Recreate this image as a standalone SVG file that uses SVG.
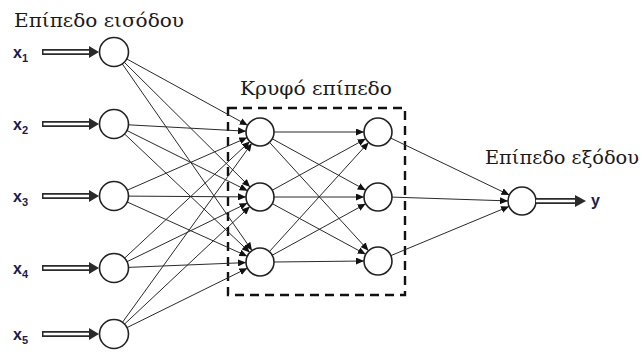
<svg xmlns="http://www.w3.org/2000/svg" width="642" height="352" viewBox="0 0 642 352">
<style>
.node{fill:#fff;stroke:#222;stroke-width:1.6}
.edge{stroke:#2a2a2a;stroke-width:1;fill:none;marker-end:url(#ah)}
.lbl{font-family:"DejaVu Serif","Liberation Serif",serif;font-size:18px;fill:#1a1a1a}
.xv{font-family:"Liberation Sans","DejaVu Sans",sans-serif;font-weight:bold;font-size:16px;fill:#1c1c4a}
.xs{font-size:11px}
.shaft{stroke:#2a2a2a;stroke-width:6;fill:none}
.shaftin{stroke:#fff;stroke-width:2.4;fill:none}
.head{fill:#2a2a2a}
.box{fill:none;stroke:#111;stroke-width:2.4;stroke-dasharray:9,6}
</style>
<defs>
<marker id="ah" markerUnits="userSpaceOnUse" markerWidth="9" markerHeight="7" refX="8" refY="3.5" orient="auto">
<path d="M0,0 L8,3.5 L0,7 z" fill="#111"/>
</marker>
</defs>
<rect width="642" height="352" fill="#fff"/>

<g id="labels">
<text class="lbl" x="14" y="27" textLength="170" lengthAdjust="spacingAndGlyphs">Επίπεδο εισόδου</text>
<text class="lbl" x="240" y="95" textLength="152" lengthAdjust="spacingAndGlyphs">Κρυφό επίπεδο</text>
<text class="lbl" x="485" y="164" textLength="154" lengthAdjust="spacingAndGlyphs">Επίπεδο εξόδου</text>
</g>

<g id="hidden-box"><rect class="box" x="228" y="108" width="177" height="187"/></g>

<g id="connectors">
<line class="edge" x1="126.3" y1="58.7" x2="247.7" y2="125.3"/>
<line class="edge" x1="123.9" y1="61.9" x2="250.1" y2="187.1"/>
<line class="edge" x1="122" y1="63.5" x2="252" y2="250.5"/>
<line class="edge" x1="128" y1="124.8" x2="246" y2="131.2"/>
<line class="edge" x1="126.5" y1="130.3" x2="247.5" y2="190.7"/>
<line class="edge" x1="124.2" y1="133.6" x2="249.8" y2="252.4"/>
<line class="edge" x1="126.8" y1="190.4" x2="247.2" y2="137.6"/>
<line class="edge" x1="128" y1="196.1" x2="246" y2="196.9"/>
<line class="edge" x1="126.8" y1="201.8" x2="247.2" y2="256.2"/>
<line class="edge" x1="124.2" y1="258.5" x2="249.8" y2="141.5"/>
<line class="edge" x1="126.6" y1="261.9" x2="247.4" y2="203.1"/>
<line class="edge" x1="128" y1="267.4" x2="246" y2="262.6"/>
<line class="edge" x1="122.2" y1="322.7" x2="251.8" y2="143.3"/>
<line class="edge" x1="124.2" y1="324.4" x2="249.8" y2="206.6"/>
<line class="edge" x1="126.6" y1="327.8" x2="247.4" y2="268.2"/>
<line class="edge" x1="274" y1="132" x2="364" y2="132"/>
<line class="edge" x1="272.3" y1="138.8" x2="365.7" y2="190.2"/>
<line class="edge" x1="269.5" y1="142.3" x2="368.5" y2="250.7"/>
<line class="edge" x1="272.3" y1="190.2" x2="365.7" y2="138.8"/>
<line class="edge" x1="274" y1="197" x2="364" y2="197"/>
<line class="edge" x1="272.3" y1="203.7" x2="365.7" y2="254.3"/>
<line class="edge" x1="269.4" y1="251.6" x2="368.6" y2="142.4"/>
<line class="edge" x1="272.3" y1="255.2" x2="365.7" y2="203.8"/>
<line class="edge" x1="274" y1="262" x2="364" y2="261"/>
<line class="edge" x1="390.6" y1="138" x2="509.4" y2="195"/>
<line class="edge" x1="392" y1="197.1" x2="508" y2="200.9"/>
<line class="edge" x1="390.9" y1="255.6" x2="509.1" y2="206.4"/>
</g>

<g id="in-arrows">
<path class="shaft" d="M42,52 H91 M42,124 H91 M42,196 H91 M42,268 H91 M42,334 H91"/>
<path class="shaftin" d="M43.5,52 H91 M43.5,124 H91 M43.5,196 H91 M43.5,268 H91 M43.5,334 H91"/>
<path class="head" d="M89,46 L99,52 L89,58 z M89,118 L99,124 L89,130 z M89,190 L99,196 L89,202 z M89,262 L99,268 L89,274 z M89,328 L99,334 L89,340 z"/>
</g>

<g id="x1"><text class="xv" x="13" y="58">x<tspan class="xs" dy="4">1</tspan></text></g>
<g id="x2"><text class="xv" x="13" y="130">x<tspan class="xs" dy="4">2</tspan></text></g>
<g id="x3"><text class="xv" x="13" y="202">x<tspan class="xs" dy="4">3</tspan></text></g>
<g id="x4"><text class="xv" x="13" y="274">x<tspan class="xs" dy="4">4</tspan></text></g>
<g id="x5"><text class="xv" x="13" y="340">x<tspan class="xs" dy="4">5</tspan></text></g>

<g id="in1"><circle class="node" cx="114" cy="52" r="14.5"/></g>
<g id="in2"><circle class="node" cx="114" cy="124" r="14.5"/></g>
<g id="in3"><circle class="node" cx="114" cy="196" r="14.5"/></g>
<g id="in4"><circle class="node" cx="114" cy="268" r="14.5"/></g>
<g id="in5"><circle class="node" cx="114" cy="334" r="14.5"/></g>

<g id="h1a"><circle class="node" cx="260" cy="132" r="14"/></g>
<g id="h1b"><circle class="node" cx="260" cy="197" r="14"/></g>
<g id="h1c"><circle class="node" cx="260" cy="262" r="14"/></g>

<g id="h2a"><circle class="node" cx="378" cy="132" r="14"/></g>
<g id="h2b"><circle class="node" cx="378" cy="197" r="14"/></g>
<g id="h2c"><circle class="node" cx="378" cy="261" r="14"/></g>

<g id="out"><circle class="node" cx="522" cy="201" r="14"/></g>

<g id="out-arrow">
<path class="shaft" d="M536,201 H577"/>
<path class="shaftin" d="M536,201 H577"/>
<path class="head" d="M575,195 L586,201 L575,207 z"/>
</g>
<g id="y"><text class="xv" x="591" y="206">y</text></g>
</svg>
